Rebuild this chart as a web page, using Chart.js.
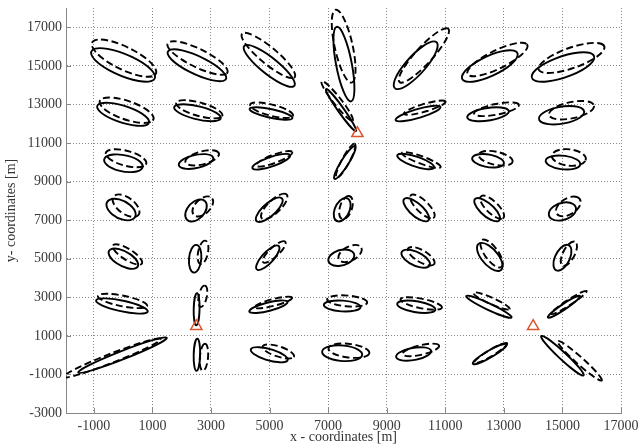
<!DOCTYPE html>
<html>
<head>
<meta charset="utf-8">
<script src="https://cdn.jsdelivr.net/npm/chart.js@4.4.1/dist/chart.umd.min.js"></script>
<style>
  html, body { margin: 0; padding: 0; background: #fff; }
</style>
</head>
<body>
<canvas id="c" width="638" height="448"></canvas>
<script>
var xTicks = [-1000, 1000, 3000, 5000, 7000, 9000, 11000, 13000, 15000, 17000];
var yTicks = [-3000, -1000, 1000, 3000, 5000, 7000, 9000, 11000, 13000, 15000, 17000];

// station triangles [m]
var triX = [2500, 8000, 14000];
var triY = [1500, 11500, 1500];

// error ellipses, rows top -> bottom, columns left -> right
// centre [m], semi axes [m], orientation [deg]
var solidX = [0, 2520, 4990, 7540, 9990, 12520, 15020,
  0, 2540, 5050, 7440, 10070, 12460, 14970,
  10, 2490, 5060, 7570, 9990, 12460, 15020,
  -70, 2490, 4990, 7480, 10010, 12430, 15000,
  10, 2460, 4940, 7450, 9990, 12520, 15000,
  -40, 2510, 4960, 7480, 10010, 12490, 15050,
  -20, 2520, 4990, 7480, 9920, 12520, 15000];
var solidY = [15050, 15030, 15000, 15090, 15030, 14990, 14940,
  12490, 12570, 12530, 12710, 12530, 12490, 12440,
  9950, 10040, 10030, 9990, 10040, 10080, 9990,
  7550, 7500, 7540, 7540, 7540, 7540, 7450,
  5000, 5000, 5050, 5050, 5000, 5090, 5050,
  2550, 2380, 2510, 2550, 2510, 2510, 2510,
  0, 20, 20, 100, 60, 60, -30];
var solidA = [1300, 1230, 1350, 1950, 1400, 1170, 1210,
  990, 850, 770, 1200, 840, 730, 800,
  690, 620, 730, 920, 710, 560, 600,
  640, 600, 740, 620, 700, 700, 530,
  650, 720, 720, 490, 600, 790, 690,
  930, 830, 700, 630, 670, 950, 780,
  1760, 830, 690, 690, 620, 770, 1250];
var solidB = [510, 420, 350, 270, 370, 460, 510,
  410, 330, 220, 110, 220, 320, 430,
  410, 330, 230, 140, 240, 320, 350,
  390, 320, 260, 260, 260, 260, 400,
  330, 210, 220, 370, 310, 310, 260,
  270, 100, 210, 280, 280, 150, 120,
  200, 110, 280, 400, 310, 160, 150];
var solidAng = [-36, -38, -52, -83, 61, 39, 31,
  -29, -22, -19, -65, 25, 15, 18,
  -22, 22, 29, 68, -29, -18, -12,
  -52, 69, 57, 77, -57, -57, 47,
  -47, 87, 61, 41, -43, -65, 75,
  -19, 89, 22, -6, -15, -36, 46,
  31, 89, -26, -9, 18, 42, -55];

var dashX = [30, 2540, 4960, 7530, 10270, 12780, 15310,
  120, 2600, 5070, 7310, 10300, 12750, 15310,
  100, 2700, 5160, 7600, 10180, 12720, 15220,
  100, 2720, 5160, 7610, 10220, 12600, 15200,
  150, 2730, 5160, 7750, 10180, 12580, 15220,
  -20, 2720, 5130, 7650, 10180, 12580, 15220,
  -380, 2760, 5300, 7710, 10170, 12550, 15590];
var dashY = [15400, 15410, 15540, 16020, 15540, 15330, 15410,
  12700, 12750, 12700, 13180, 12830, 12750, 12700,
  10210, 10230, 10180, 10080, 10120, 10210, 10250,
  7750, 7710, 7710, 7650, 7710, 7670, 7710,
  5220, 5330, 5350, 5270, 5130, 5270, 5260,
  2810, 3050, 2730, 2810, 2680, 2810, 2730,
  -150, -110, 190, 230, 270, 110, -290];
var dashA = [1370, 1280, 1450, 1910, 1620, 1280, 1280,
  1040, 860, 790, 1150, 780, 800, 810,
  750, 620, 710, 940, 760, 610, 590,
  660, 560, 760, 610, 710, 690, 570,
  690, 610, 660, 510, 610, 780, 660,
  880, 560, 690, 690, 740, 750, 850,
  1930, 700, 600, 710, 660, 760, 1270];
var dashB = [520, 420, 350, 310, 330, 420, 490,
  450, 330, 280, 150, 190, 270, 410,
  370, 320, 200, 140, 180, 330, 420,
  340, 290, 260, 210, 240, 240, 340,
  240, 170, 190, 310, 260, 250, 210,
  270, 140, 170, 280, 240, 150, 120,
  220, 140, 250, 350, 240, 140, 150];
var dashAng = [-40, -39, -53, -82, 60, 39, 31,
  -31, -25, -23, -63, 25, 18, 21,
  -26, 26, 31, 71, -30, -22, -15,
  -57, 65, 59, 80, -59, -59, 57,
  -47, 83, 57, 52, -47, -67, 73,
  -18, 83, 22, -8, -18, -35, 45,
  31, 87, -29, -12, 21, 43, -54];

var serif = "'Liberation Serif', 'Times New Roman', serif";

function drawEllipses(ctx, xs, ys, cx, cy, a, b, ang, dash) {
  ctx.strokeStyle = '#000';
  ctx.lineWidth = 1.9;
  ctx.setLineDash(dash);
  for (var i = 0; i < cx.length; i++) {
    var t = ang[i] * Math.PI / 180;
    var px = xs.getPixelForValue(cx[i]);
    var py = ys.getPixelForValue(cy[i]);
    var ux = xs.getPixelForValue(cx[i] + a[i] * Math.cos(t)) - px;
    var uy = ys.getPixelForValue(cy[i] + a[i] * Math.sin(t)) - py;
    var vx = xs.getPixelForValue(cx[i] - b[i] * Math.sin(t)) - px;
    var vy = ys.getPixelForValue(cy[i] + b[i] * Math.cos(t)) - py;
    ctx.save();
    ctx.beginPath();
    ctx.transform(ux, uy, vx, vy, px, py);
    ctx.arc(0, 0, 1, 0, Math.PI * 2);
    ctx.restore();
    ctx.stroke();
  }
}

var ellipsePlugin = {
  id: 'ellipses',
  beforeDatasetsDraw: function (chart) {
    var ctx = chart.ctx, area = chart.chartArea;
    var xs = chart.scales.x, ys = chart.scales.y;
    ctx.save();
    ctx.beginPath();
    ctx.rect(area.left, area.top, area.right - area.left, area.bottom - area.top);
    ctx.clip();
    drawEllipses(ctx, xs, ys, solidX, solidY, solidA, solidB, solidAng, []);
    drawEllipses(ctx, xs, ys, dashX, dashY, dashA, dashB, dashAng, [7, 3.5]);
    ctx.restore();
  },
  afterDraw: function (chart) {
    // small inward tick marks
    var ctx = chart.ctx, area = chart.chartArea;
    var xs = chart.scales.x, ys = chart.scales.y;
    ctx.save();
    ctx.strokeStyle = '#888';
    ctx.lineWidth = 1;
    ctx.beginPath();
    xTicks.forEach(function (v) {
      var x = Math.round(xs.getPixelForValue(v)) + 0.5;
      ctx.moveTo(x, area.bottom);
      ctx.lineTo(x, area.bottom - 5);
    });
    yTicks.forEach(function (v) {
      var y = Math.round(ys.getPixelForValue(v)) + 0.5;
      ctx.moveTo(area.left, y);
      ctx.lineTo(area.left + 5, y);
    });
    ctx.stroke();
    ctx.restore();
  }
};

new Chart(document.getElementById('c'), {
  type: 'scatter',
  data: {
    datasets: [{
      data: triX.map(function (x, i) { return { x: x, y: triY[i] }; }),
      pointStyle: 'triangle',
      pointRadius: 6.5,
      borderColor: '#d8552e',
      backgroundColor: 'rgba(0,0,0,0)',
      borderWidth: 1.5
    }]
  },
  options: {
    responsive: false,
    animation: false,
    events: [],
    layout: { padding: { left: 0, top: 7, right: 17, bottom: 0 } },
    plugins: { legend: { display: false }, tooltip: { enabled: false } },
    scales: {
      x: {
        type: 'linear',
        min: -1950,
        max: 17000,
        afterBuildTicks: function (s) { s.ticks = xTicks.map(function (v) { return { value: v }; }); },
        afterFit: function (s) { s.height = 35; s.paddingLeft = 0; s.paddingRight = 0; },
        grid: { color: '#888', lineWidth: 1, drawTicks: false },
        border: { display: true, color: '#888', width: 1, dash: [1, 2] },
        ticks: {
          color: '#3a3a3a', padding: 5, autoSkip: false, maxRotation: 0,
          font: { family: serif, size: 14 },
          callback: function (v) { return String(v); }
        },
        title: {
          display: true, text: 'x - coordinates [m]', color: '#333',
          font: { family: serif, size: 14 }, padding: { top: 0, bottom: 2 }
        }
      },
      y: {
        type: 'linear',
        min: -3000,
        max: 18000,
        afterBuildTicks: function (s) { s.ticks = yTicks.map(function (v) { return { value: v }; }); },
        afterFit: function (s) { s.width = 66; s.paddingTop = 0; s.paddingBottom = 0; },
        grid: { color: '#888', lineWidth: 1, drawTicks: false },
        border: { display: true, color: '#888', width: 1, dash: [1, 2] },
        ticks: {
          color: '#3a3a3a', padding: 4, autoSkip: false,
          font: { family: serif, size: 14 },
          callback: function (v) { return String(v); }
        },
        title: {
          display: true, text: 'y- coordinates [m]', color: '#333',
          font: { family: serif, size: 14 }, padding: { top: 3, bottom: 0 }
        }
      }
    }
  },
  plugins: [ellipsePlugin]
});
</script>
</body>
</html>
